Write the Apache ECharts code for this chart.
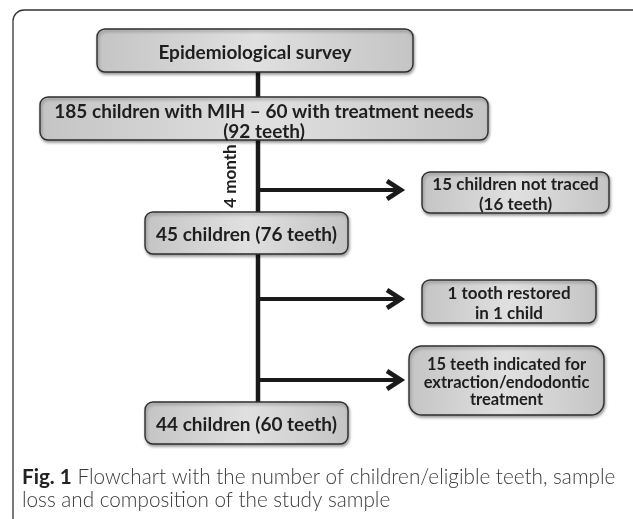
<!DOCTYPE html>
<html><head><meta charset="utf-8">
<script src="https://cdn.jsdelivr.net/npm/echarts@6/dist/echarts.min.js"></script>
<style>html,body{margin:0;padding:0;background:#fff}#c{width:633px;height:519px}</style>
</head><body><div id="c"></div>
<script>
// ---- content ----
const mainLabels = [
  'Epidemiological survey',
  '185 children with MIH \u2013 60 with treatment needs\n(92 teeth)',
  '45 children (76 teeth)',
  '44 children (60 teeth)'
];
const sideLabels = [
  '15 children not traced\n(16 teeth)',
  '1 tooth restored\nin 1 child',
  '15 teeth indicated for\nextraction/endodontic\ntreatment'
];
const intervalLabel = '4 month';
const captionBold = 'Fig. 1';
const captionText = ' Flowchart with the number of children/eligible teeth, sample\nloss and composition of the study sample';

// ---- layout (in a 633 x 519 layout space) ----
const mainBoxes = [[97,29,413,72],[40,97,488,140],[145,212,348,254],[145,402,348,444]];
const sideBoxes = [[422,172,609,213],[422,280,596,323],[409,346,604,415]];
const spineX = 258;
const spineSegs = [[72,97],[140,212],[254,402]];
const arrowYs = [190, 299, 380];
const arrowTipX = 401;

const FONT = 'Lato, "Open Sans", sans-serif';

function boxItem(box, label, opts) {
  return function(api){
    const p0 = api.coord([box[0], box[1]]);
    const p1 = api.coord([box[2], box[3]]);
    return {
      type:'group',
      children:[
        {type:'rect', shape:{x:p0[0], y:p0[1], width:p1[0]-p0[0], height:p1[1]-p0[1], r:opts.r},
         style:{fill:new echarts.graphic.LinearGradient(0,0,1,0,[{offset:0,color:'#c4c4c4'},{offset:0.5,color:'#e0e0e0'},{offset:1,color:'#c4c4c4'}]),
                stroke:'#2e2e2e', lineWidth:1.4, shadowBlur:3, shadowOffsetY:2, shadowOffsetX:1, shadowColor:'rgba(0,0,0,0.35)'}},
        {type:'text', x:(p0[0]+p1[0])/2, y:(p0[1]+p1[1])/2 + (opts.dy||0),
         style:{text:label, align:'center', verticalAlign:'middle', fontFamily:FONT, fontWeight:'bold',
                fontSize:opts.fs, lineHeight:opts.lh, fill:'#1e1e1e'}}
      ]
    };
  };
}

const boxRenderers = [];
const boxData = [];
mainBoxes.forEach((b,i)=>{ boxRenderers.push(boxItem(b, mainLabels[i], {r:8, fs:19, lh:20, dy:i===1?3:2})); boxData.push(b); });
sideBoxes.forEach((b,i)=>{ boxRenderers.push(boxItem(b, sideLabels[i], {r:i===2?13:8, fs:i===2?16.5:17, lh:i===2?17.5:20, dy:2})); boxData.push(b); });

const chart = echarts.init(document.getElementById('c'), null, {renderer:'canvas'});
chart.setOption({
  animation:false,
  backgroundColor:'#fff',
  grid:{left:0,right:0,top:0,bottom:0},
  xAxis:{type:'value', min:0, max:633, show:false},
  yAxis:{type:'value', min:0, max:519, inverse:true, show:false},
  title:{
    text:'{b|' + captionBold + '}' + captionText,
    left:17, top:461,
    textStyle:{fontFamily:FONT, fontSize:20.7, fontWeight:300, color:'#3a3a3a', lineHeight:23,
      rich:{b:{fontFamily:FONT, fontSize:20.7, fontWeight:'bold', color:'#222', lineHeight:23}}}
  },
  graphic:[
    {type:'rect', shape:{x:13, y:10, width:640, height:540, r:11}, style:{fill:'none', stroke:'#333', lineWidth:1.3}, z:0}
  ],
  series:[
    {
      type:'custom', coordinateSystem:'cartesian2d', z:2,
      data: spineSegs.map(s=>[spineX, s[0], spineX, s[1]]).concat(arrowYs.map(y=>[spineX, y, arrowTipX, y])),
      encode:{x:[0,2], y:[1,3]},
      renderItem:function(params, api){
        const p0 = api.coord([api.value(0), api.value(1)]);
        const p1 = api.coord([api.value(2), api.value(3)]);
        const ch = [];
        if (p0[0] === p1[0]) {
          ch.push({type:'line', shape:{x1:p0[0], y1:p0[1], x2:p1[0], y2:p1[1]}, style:{stroke:'#1a1a1a', lineWidth:4.5}});
          if (params.dataIndex === 1) {
            ch.push({type:'text', x:p0[0]-27, y:(p0[1]+p1[1])/2, rotation:Math.PI/2,
              style:{text:intervalLabel, align:'center', verticalAlign:'middle', fontFamily:FONT, fontWeight:'bold', fontSize:17, fill:'#1e1e1e'}});
          }
        } else {
          ch.push({type:'line', shape:{x1:p0[0], y1:p0[1], x2:p1[0]-3, y2:p1[1]}, style:{stroke:'#1a1a1a', lineWidth:4}});
          ch.push({type:'polyline', shape:{points:[[p1[0]-14, p1[1]-9],[p1[0], p1[1]],[p1[0]-14, p1[1]+9]]},
            style:{stroke:'#1a1a1a', lineWidth:4.5, fill:null, lineJoin:'miter', lineCap:'butt'}});
        }
        return {type:'group', children:ch};
      }
    },
    {
      type:'custom', coordinateSystem:'cartesian2d', z:3,
      data: boxData,
      encode:{x:[0,2], y:[1,3]},
      renderItem:function(params, api){ return boxRenderers[params.dataIndex](api); }
    }
  ]
});
</script>
</body></html>
